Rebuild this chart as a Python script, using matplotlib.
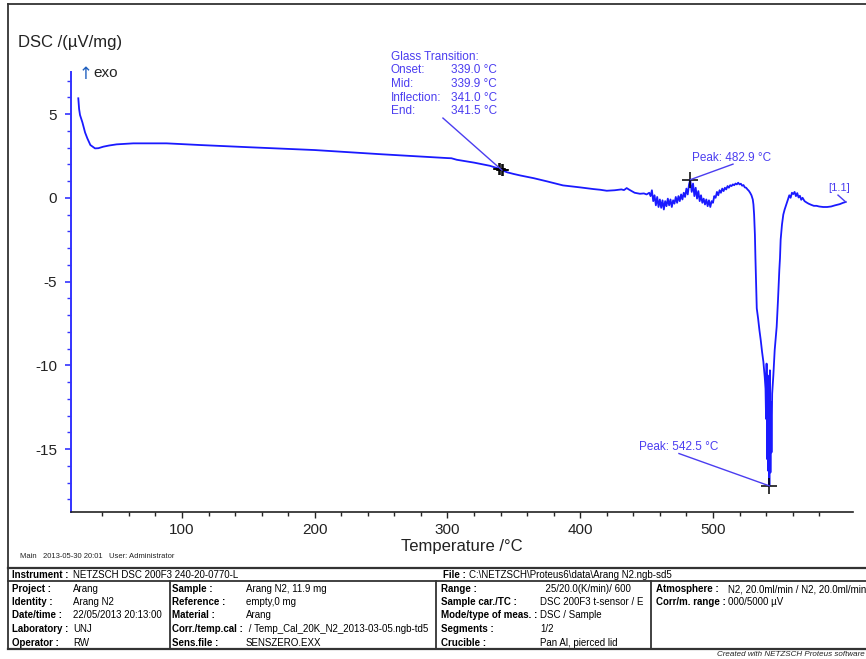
import matplotlib
matplotlib.use('Agg')
import matplotlib.pyplot as plt
import numpy as np

plt.rcParams['font.family'] = ['Liberation Sans', 'DejaVu Sans']

# DSC signal, read in segments (temperature in degC, signal in uV/mg)
base_t = [21.9, 22.5, 23.2, 25, 27, 28.7, 31, 34.5, 37, 40.7, 45, 50.8, 63.3, 88.4,
          113.6, 150, 200, 250, 280, 300, 303, 307, 320, 332, 339.0, 339.9, 341.0,
          341.5, 345, 350, 355, 365, 375, 387, 400, 410, 415, 420, 426, 431, 433, 435,
          437, 441, 445, 448, 450]
base_d = [5.94, 5.3, 4.94, 4.5, 3.9, 3.55, 3.15, 2.95, 2.96, 3.05, 3.12, 3.19, 3.25, 3.25,
          3.15, 3.02, 2.85, 2.6, 2.46, 2.37, 2.36, 2.27, 2.1, 1.91, 1.73, 1.69, 1.65,
          1.63, 1.52, 1.42, 1.33, 1.17, 0.98, 0.74, 0.62, 0.52, 0.48, 0.42, 0.45, 0.50, 0.46,
          0.58, 0.48, 0.3, 0.24, 0.26, 0.2]

noise_t = [452, 453, 454, 455, 456, 457, 458, 459, 460, 461, 462, 463, 464, 465, 466,
           467, 468, 469, 470, 471, 472, 473, 474, 475, 476, 477, 478, 479, 480, 481,
           482, 482.9, 484, 485, 486, 487, 488, 489, 490, 491, 492, 493, 494, 495, 496,
           497, 498, 499, 500, 501, 502, 503, 504, 505, 506, 507, 508, 509, 510, 511,
           512, 513, 514, 515, 516, 517, 518, 519, 520, 521, 522, 523, 524, 525, 526,
           527, 528, 529, 530]
noise_d = [0.30, 0.10, 0.45, -0.20, 0.15, -0.45, 0.05, -0.55, -0.10, -0.60, -0.15, -0.70,
           -0.20, -0.50, -0.05, -0.45, -0.10, -0.55, -0.15, -0.35, 0.05, -0.30, 0.10,
           -0.20, 0.20, -0.10, 0.30, 0.05, 0.55, 0.20, 0.80, 1.08, 0.35, 0.85, 0.10, 0.60,
           -0.05, 0.40, -0.20, 0.15, -0.30, -0.05, -0.40, -0.10, -0.50, -0.15, -0.55,
           -0.20, -0.30, 0.10, 0.00, 0.35, 0.15, 0.45, 0.30, 0.55, 0.40, 0.60, 0.50, 0.70,
           0.60, 0.75, 0.70, 0.80, 0.75, 0.85, 0.80, 0.90, 0.80, 0.84, 0.72, 0.76, 0.62,
           0.60, 0.50, 0.42, 0.30, 0.15, -0.10]

trough_t = [530.5, 531, 531.6, 532, 532.5, 533, 534, 535, 536, 537, 538, 539, 539.6,
            540.0, 540.4, 540.8, 541.2, 541.6, 542.0, 542.5, 542.9, 543.3, 543.7, 544.1,
            544.6, 545.5, 546.5, 548, 549, 550, 550.5, 551, 552, 553, 554, 555.5]
trough_d = [-0.4, -1.0, -2.2, -3.6, -5.0, -6.6, -7.2, -7.9, -8.5, -9.2, -9.8, -10.7, -11.4,
            -13.2, -9.9, -15.6, -10.6, -16.3, -11.8, -17.2, -10.3, -16.4, -12.2, -15.2,
            -11.7, -10.6, -9.1, -7.7, -6.1, -4.3, -3.6, -2.5, -1.6, -1.0, -0.7, -0.35]

tail_t = [556.5, 557.5, 558.5, 559.5, 560.5, 561.5, 562.5, 563.5, 564.5, 565.5, 566.5,
          567.5, 569, 570.5, 572, 574, 576, 578, 580, 583, 586, 589, 592, 595.5, 598, 600]
tail_d = [-0.1, 0.15, 0.0, 0.3, 0.22, 0.35, 0.1, 0.28, 0.02, 0.12, -0.12, 0.0, -0.2,
          -0.28, -0.35, -0.42, -0.48, -0.48, -0.52, -0.55, -0.55, -0.52, -0.45, -0.38,
          -0.3, -0.25]

# evaluated points
gt_t = [339.0, 339.9, 341.0, 341.5]
gt_d = [1.73, 1.69, 1.65, 1.63]
peak_t = [482.9, 542.5]
peak_d = [1.08, -17.2]

gt_labels = ['Onset:', 'Mid:', 'Inflection:', 'End:']
gt_values = ['339.0 °C', '339.9 °C', '341.0 °C', '341.5 °C']

temps = np.array(base_t + noise_t + trough_t + tail_t)
dsc = np.array(base_d + noise_d + trough_d + tail_d)

W, H = 866, 659
BLUE = '#1a1aff'
ANN = '#4b3df0'
EDGE = '#333333'


def fx(x):
    return x / W


def fy(y):
    return 1 - y / H


fig = plt.figure(figsize=(8.66, 6.59), dpi=100)
ax = fig.add_axes([fx(71), fy(512), fx(853) - fx(71), fy(72) - fy(512)])

ax.plot(temps, dsc, color=BLUE, lw=1.3)
ax.set_xlim(16.4, 605.5)
ax.set_ylim(-18.76, 7.51)

for s in ['top', 'right']:
    ax.spines[s].set_visible(False)
ax.spines['left'].set_color('#3333ff')
ax.spines['left'].set_linewidth(1.4)
ax.spines['bottom'].set_color('#222222')
ax.spines['bottom'].set_linewidth(1.2)

ax.set_xticks([100, 200, 300, 400, 500])
ax.set_xticks(np.arange(40, 581, 20), minor=True)
ax.set_yticks([-15, -10, -5, 0, 5])
ax.set_yticks(np.arange(-18, 8, 1), minor=True)
ax.set_yticklabels(['-15', '-10', '-5', '0', '5'])
ax.tick_params(axis='x', which='major', length=4, width=1, color='#222222',
               labelsize=11, pad=4, labelcolor='#222222')
ax.tick_params(axis='x', which='minor', length=3, width=1, color='#222222')
ax.tick_params(axis='y', which='major', length=4, width=1.2, color='#3333ff',
               labelsize=11, pad=6, labelcolor='#222222')
ax.tick_params(axis='y', which='minor', length=3, width=1, color='#3333ff')

# glass transition
ax.plot(gt_t, gt_d, '+', color='black', ms=9, mew=1.1, clip_on=False)
ax.plot([296.6, gt_t[2]], [4.76, gt_d[2]], color=ANN, lw=1)
ax.text(257.4, 8.40, 'Glass Transition:', color=ANN, fontsize=8.5, va='center')
for i, (lab, val) in enumerate(zip(gt_labels, gt_values)):
    yy = 7.60 - i * 0.815
    ax.text(257.4, yy, lab, color=ANN, fontsize=8.5, va='center')
    ax.text(302.6, yy, val, color=ANN, fontsize=8.5, va='center')

# peaks
ax.plot(peak_t, peak_d, '+', color='black', ms=11, mew=1.1, clip_on=False)
ax.plot([515.1, peak_t[0]], [2.01, peak_d[0]], color=ANN, lw=1)
ax.text(484.2, 2.37, 'Peak: %.1f °C' % peak_t[0], color=ANN, fontsize=8.5, va='center')
ax.plot([474.4, peak_t[1]], [-15.27, peak_d[1]], color=ANN, lw=1)
ax.text(444.3, -14.88, 'Peak: %.1f °C' % peak_t[1], color=ANN, fontsize=8.5, va='center')

# segment tag
ax.plot([594.2, tail_t[-1]], [0.16, tail_d[-1]], color=ANN, lw=1)
ax.text(586.6, 0.58, '[1.1]', color=ANN, fontsize=8, va='center')

ax.text(22.0, 7.40, '↑', color='#1f5fbf', fontsize=12, va='center', family='DejaVu Sans')
ax.text(33.5, 7.45, 'exo', color='#222222', fontsize=11, va='center')

fig.text(fx(18), fy(43), 'DSC /(µV/mg)', fontsize=12, va='center', color='#222222')
fig.text(fx(462), fy(546), 'Temperature /°C', fontsize=12, va='center', ha='center',
         color='#222222')
fig.text(fx(20), fy(556), 'Main   2013-05-30 20:01   User: Administrator',
         fontsize=5.5, va='center', color='#222222')


def hline(y, x0=8, x1=866, lw=1.3):
    fig.add_artist(plt.Line2D([fx(x0), fx(x1)], [fy(y), fy(y)], color=EDGE, lw=lw))


def vline(x, y0, y1, lw=1.3):
    fig.add_artist(plt.Line2D([fx(x), fx(x)], [fy(y0), fy(y1)], color=EDGE, lw=lw))


# page frame and info table
hline(4)
vline(8, 4, 649)
hline(568, lw=1.6)
hline(581)
hline(649, lw=1.6)
vline(170, 581, 649)
vline(436, 581, 649)
vline(651, 581, 649)

row_y = [589, 602, 615.5, 629, 642.5]
col1_lab = ['Project :', 'Identity :', 'Date/time :', 'Laboratory :', 'Operator :']
col1_val = ['Arang', 'Arang N2', '22/05/2013 20:13:00', 'UNJ', 'RW']
col2_lab = ['Sample :', 'Reference :', 'Material :', 'Corr./temp.cal :', 'Sens.file :']
col2_val = ['Arang N2, 11.9 mg', 'empty,0 mg', 'Arang',
            ' / Temp_Cal_20K_N2_2013-03-05.ngb-td5', 'SENSZERO.EXX']
col3_lab = ['Range :', 'Sample car./TC :', 'Mode/type of meas. :', 'Segments :', 'Crucible :']
col3_val = ['  25/20.0(K/min)/ 600', 'DSC 200F3 t-sensor / E', 'DSC / Sample', '1/2',
            'Pan Al, pierced lid']
col4_lab = ['Atmosphere :', 'Corr/m. range :']
col4_val = ['N2, 20.0ml/min / N2, 20.0ml/min', '000/5000 µV']

TF = 7
fig.text(fx(12), fy(574.5), 'Instrument :', fontsize=TF, fontweight='bold', va='center')
fig.text(fx(73), fy(574.5), 'NETZSCH DSC 200F3 240-20-0770-L', fontsize=TF, va='center')
fig.text(fx(443), fy(574.5), 'File :', fontsize=TF, fontweight='bold', va='center')
fig.text(fx(469), fy(574.5), 'C:\\NETZSCH\\Proteus6\\data\\Arang N2.ngb-sd5', fontsize=TF,
         va='center')

for labs, vals, xl, xv in [(col1_lab, col1_val, 12, 73), (col2_lab, col2_val, 172, 246),
                           (col3_lab, col3_val, 441, 540), (col4_lab, col4_val, 656, 728)]:
    for y, lab, val in zip(row_y, labs, vals):
        fig.text(fx(xl), fy(y), lab, fontsize=TF, fontweight='bold', va='center')
        fig.text(fx(xv), fy(y), val, fontsize=TF, va='center')

fig.text(fx(717), fy(654.5), 'Created with NETZSCH Proteus software', fontsize=5.8,
         style='italic', va='center', color='#222222')

fig.savefig('out.png', dpi=100)
